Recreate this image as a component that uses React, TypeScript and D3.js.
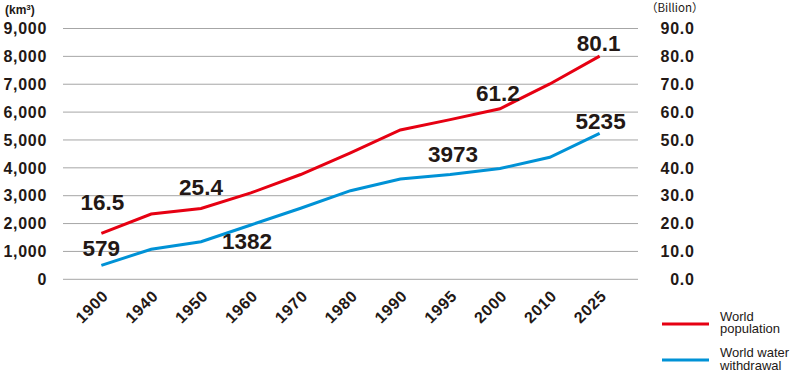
import React from 'react'
import * as d3 from 'd3'

const years = ['1900', '1940', '1950', '1960', '1970', '1980', '1990', '1995', '2000', '2010', '2025']
// world population (right axis)
const population = [16.5, 23.4, 25.4, 31.0, 37.6, 45.4, 53.6, 57.3, 61.2, 70.1, 80.1]
// world water withdrawal, km3 (left axis)
const withdrawal = [500, 1080, 1350, 1950, 2550, 3180, 3600, 3760, 3973, 4380, 5235]
const leftTicks = [0, 1000, 2000, 3000, 4000, 5000, 6000, 7000, 8000, 9000]
const rightTicks = [0, 10, 20, 30, 40, 50, 60, 70, 80, 90]
// value labels: year index, text
const popLabels = [
    { i: 0, text: '16.5' },
    { i: 2, text: '25.4' },
    { i: 8, text: '61.2' },
    { i: 10, text: '80.1' },
]
const waterLabels = [
    { i: 0, text: '579' },
    { i: 2, text: '1382' },
    { i: 8, text: '3973' },
    { i: 10, text: '5235' },
]
// label offsets from their point (layout only)
const popOffsets = [[1, -23], [0, -14], [-2, -8], [-1, -5]]
const waterOffsets = [[0, -9], [46, 7], [-47, -7], [1, -4]]

const W = 802
const H = 372
const RED = '#e60012'
const BLUE = '#0092d6'
const INK = '#231815'
const FONT = '"Liberation Sans", Arial, sans-serif'

export default function App() {
    const [left, right] = [63, 638]
    const [top, bottom] = [28.5, 279.3]

    const x = d3.scalePoint<string>().domain(years).range([left, right]).padding(0.77)
    const yL = d3.scaleLinear().domain([0, 9000]).range([bottom, top])
    const yR = d3.scaleLinear().domain([0, 90]).range([bottom, top])

    const popLine = d3
        .line<number>()
        .x((_, i) => x(years[i]) as number)
        .y(d => yR(d))
    const waterLine = d3
        .line<number>()
        .x((_, i) => x(years[i]) as number)
        .y(d => yL(d))

    const tickStyle = {
        fontFamily: FONT,
        fontWeight: 700,
        fontSize: 16,
        letterSpacing: 0.7,
        fill: INK,
    }
    const bigStyle = {
        fontFamily: FONT,
        fontWeight: 700,
        fontSize: 22.5,
        fill: INK,
    }

    return (
        <div style={{ position: 'absolute', left: 0, top: 0 }}>
            <svg width={W} height={H} viewBox={`0 0 ${W} ${H}`} style={{ display: 'block' }}>
                <rect width={W} height={H} fill='white' />
                <g>
                    {leftTicks.map(t => (
                        <line
                            key={t}
                            x1={left}
                            x2={right}
                            y1={yL(t)}
                            y2={yL(t)}
                            stroke='#a6a6a6'
                            strokeWidth={1}
                        />
                    ))}
                </g>
                <g textAnchor='end' style={tickStyle}>
                    {leftTicks.map(t => (
                        <text key={t} x={47} y={yL(t) + 5.7}>
                            {d3.format(',')(t)}
                        </text>
                    ))}
                </g>
                <g textAnchor='end' style={tickStyle}>
                    {rightTicks.map(t => (
                        <text key={t} x={694.5} y={yR(t) + 5.7}>
                            {d3.format('.1f')(t)}
                        </text>
                    ))}
                </g>
                <text x={5} y={14} style={{ fontFamily: FONT, fontWeight: 700, fontSize: 12, fill: INK }}>
                    (km<tspan dy={-4} fontSize={8}>3</tspan>
                    <tspan dy={4}>)</tspan>
                </text>
                <text
                    x={646}
                    y={12}
                    style={{ fontFamily: '"Noto Sans CJK JP", sans-serif', fontSize: 11.5, fill: INK }}
                >
                    （Billion）
                </text>
                <g style={tickStyle} textAnchor='end'>
                    {years.map(yr => {
                        const px = (x(yr) as number) + 8
                        return (
                            <text key={yr} transform={`translate(${px},297) rotate(-45)`}>
                                {yr}
                            </text>
                        )
                    })}
                </g>
                <path d={waterLine(withdrawal) ?? ''} fill='none' stroke={BLUE} strokeWidth={3} />
                <path d={popLine(population) ?? ''} fill='none' stroke={RED} strokeWidth={3} />
                <g textAnchor='middle' style={bigStyle}>
                    {popLabels.map((l, k) => (
                        <text
                            key={l.text}
                            x={(x(years[l.i]) as number) + popOffsets[k][0]}
                            y={yR(population[l.i]) + popOffsets[k][1]}
                        >
                            {l.text}
                        </text>
                    ))}
                    {waterLabels.map((l, k) => (
                        <text
                            key={l.text}
                            x={(x(years[l.i]) as number) + waterOffsets[k][0]}
                            y={yL(withdrawal[l.i]) + waterOffsets[k][1]}
                        >
                            {l.text}
                        </text>
                    ))}
                </g>
                <g style={{ fontFamily: FONT, fontSize: 13, fill: INK }}>
                    <line x1={662} x2={709} y1={324} y2={324} stroke={RED} strokeWidth={3} />
                    <text x={720} y={320.5}>
                        World
                        <tspan x={720} dy={12.8}>population</tspan>
                    </text>
                    <line x1={662} x2={709} y1={360} y2={360} stroke={BLUE} strokeWidth={3} />
                    <text x={720} y={357}>
                        World water
                        <tspan x={720} dy={12.8}>withdrawal</tspan>
                    </text>
                </g>
            </svg>
        </div>
    )
}
